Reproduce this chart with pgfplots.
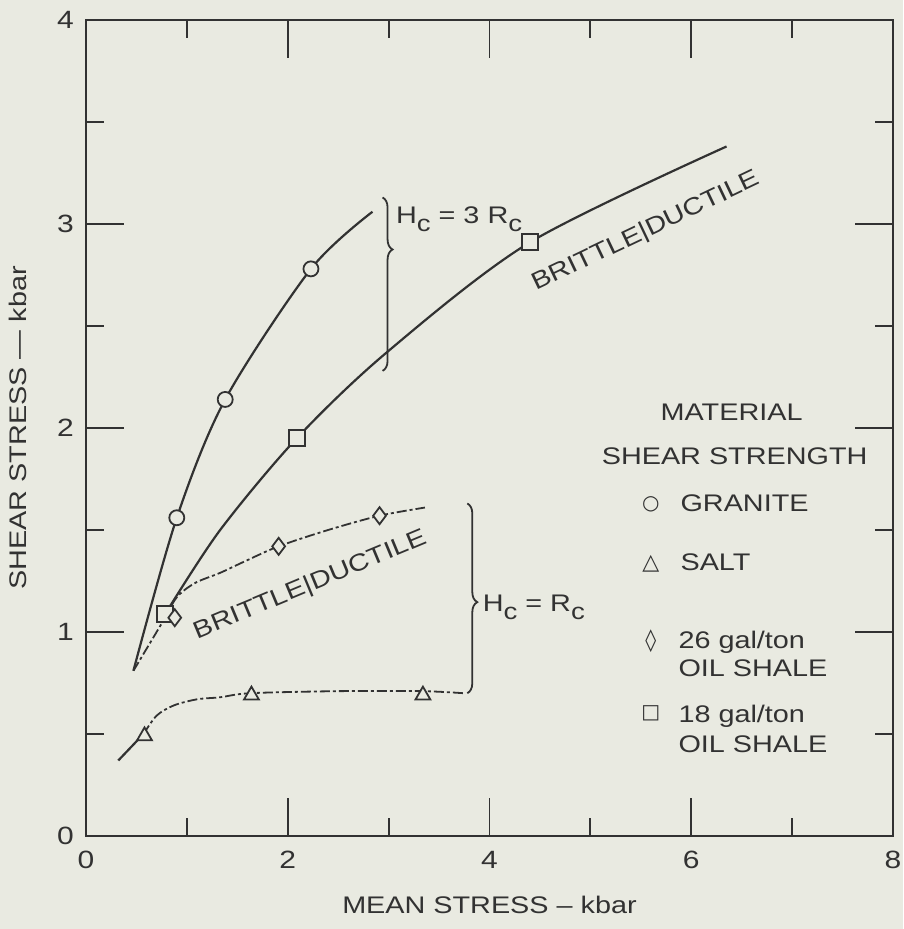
\documentclass[border=0pt]{standalone}
\usepackage{fontspec}
\setmainfont{Liberation Sans}[FakeStretch=1.2]
\newfontfamily\symfont{DejaVu Sans}
\usepackage{pgfplots}
\pgfplotsset{compat=1.18}
\usetikzlibrary{decorations.pathreplacing}
\definecolor{bg}{RGB}{233,234,225}
\definecolor{ink}{RGB}{50,50,50}
\newcommand{\lblfont}{\fontsize{12}{14}\selectfont}
\newcommand{\sub}[1]{\raisebox{-0.6ex}{\fontsize{11.5}{12}\selectfont #1}}
\begin{document}
\begin{tikzpicture}
\path[use as bounding box, fill=bg] (-43pt,-46.5pt) rectangle (408.5pt,418pt);
\begin{axis}[
  scale only axis, width=403.5pt, height=408pt,
  xmin=0, xmax=8, ymin=0, ymax=4,
  xtick={0,2,4,6,8}, minor xtick={1,3,5,7},
  ytick={0,1,2,3,4}, minor ytick={0.5,1.5,2.5,3.5},
  tick align=inside, major tick length=19pt, minor tick length=9pt,
  tick style={ink, line width=0.9pt},
  axis line style={ink, line width=1pt},
  /pgf/number format/assume math mode=true,
  ticklabel style={font=\fontsize{12.5}{14}\selectfont, text=ink},
  xticklabel style={yshift=-4pt},
  yticklabel style={xshift=-2.5pt},
  xlabel={MEAN STRESS -- kbar}, ylabel={SHEAR STRESS — kbar},
  every axis x label/.style={at={(rel axis cs:0.5,0)}, yshift=-34.5pt, anchor=center, font=\lblfont, text=ink},
  every axis y label/.style={at={(rel axis cs:0,0.5)}, xshift=-34pt, rotate=90, anchor=center, font=\lblfont, text=ink},
]
% Granite
\addplot[ink, line width=1.1pt, smooth, tension=0.5] coordinates {
  (0.47,0.81) (0.90,1.56) (1.38,2.14) (2.23,2.78) (2.84,3.06)};
\addplot[ink, only marks, mark=*, mark size=3.75pt, mark options={fill=bg, draw=ink, line width=0.9pt}] coordinates {
  (0.90,1.56) (1.38,2.14) (2.23,2.78)};
% 18 gal/ton oil shale
\addplot[ink, line width=1.1pt, smooth, tension=0.5] coordinates {
  (0.80,1.10) (1.33,1.50) (2.09,1.95) (2.98,2.37) (4.40,2.91) (6.35,3.38)};
\addplot[ink, only marks, mark=square*, mark size=4pt, mark options={fill=bg, draw=ink, line width=0.9pt}] coordinates {
  (0.78,1.09) (2.09,1.95) (4.40,2.91)};
% 26 gal/ton oil shale
\addplot[ink, line width=0.9pt, smooth, tension=0.5, dash pattern=on 5pt off 1.5pt on 1.5pt off 1.5pt] coordinates {
  (0.47,0.81) (0.76,1.05) (0.90,1.17) (1.08,1.24) (1.33,1.29) (1.59,1.35) (1.91,1.42) (2.40,1.50) (2.91,1.57) (3.36,1.61)};
\addplot[ink, only marks, mark=diamond*, mark size=4.25pt, mark options={fill=bg, draw=ink, line width=0.9pt}] coordinates {
  (0.88,1.07) (1.91,1.42) (2.91,1.57)};
% Salt
\addplot[ink, line width=1.1pt] coordinates {(0.32,0.37) (0.57,0.50)};
\addplot[ink, line width=0.9pt, smooth, tension=0.5, dash pattern=on 5pt off 1.5pt on 1.5pt off 1.5pt] coordinates {
  (0.57,0.50) (0.70,0.59) (0.87,0.64) (1.10,0.67) (1.33,0.68) (1.63,0.70) (2.50,0.71) (3.33,0.71) (3.74,0.70)};
\addplot[ink, only marks, mark=triangle*, mark size=4.3pt, mark options={fill=bg, draw=ink, line width=0.9pt}] coordinates {
  (0.58,0.49) (1.64,0.69) (3.34,0.69)};

% Labels on curves
\node[anchor=base, rotate=25.5, font=\lblfont, text=ink] at (axis cs:5.58,2.935) {BRITTLE|DUCTILE};
\node[anchor=base, rotate=22.6, font=\lblfont, text=ink] at (axis cs:2.25,1.20) {BRITTLE|DUCTILE};

% Braces
\draw[ink, line width=0.9pt, decorate, decoration={brace, amplitude=5pt, aspect=0.3}] (axis cs:2.94,3.13) -- (axis cs:2.94,2.28);
\draw[ink, line width=0.9pt, decorate, decoration={brace, amplitude=5pt, aspect=0.52}] (axis cs:3.78,1.63) -- (axis cs:3.78,0.70);
\node[anchor=base west, font=\lblfont, text=ink, inner sep=0pt] at (axis cs:3.07,3.0) {H\sub{c} = 3 R\sub{c}};
\node[anchor=base west, font=\lblfont, text=ink, inner sep=0pt] at (axis cs:3.93,1.10) {H\sub{c} = R\sub{c}};

% Legend block
\node[anchor=base, font=\lblfont, text=ink, inner sep=0pt] at (axis cs:6.40,2.037) {MATERIAL};
\node[anchor=base, font=\lblfont, text=ink, inner sep=0pt] at (axis cs:6.43,1.82) {SHEAR STRENGTH};
\node[font=\symfont\fontsize{10}{11}\selectfont, text=ink, inner sep=0pt] at (axis cs:5.60,1.625) {○};
\node[anchor=base west, font=\lblfont, text=ink, inner sep=0pt] at (axis cs:5.89,1.59) {GRANITE};
\node[font=\symfont\fontsize{11}{12}\selectfont, text=ink, inner sep=0pt] at (axis cs:5.60,1.335) {△};
\node[anchor=base west, font=\lblfont, text=ink, inner sep=0pt] at (axis cs:5.89,1.30) {SALT};
\node[font=\symfont\fontsize{11}{12}\selectfont, text=ink, inner sep=0pt] at (axis cs:5.60,0.956) {◊};
\node[anchor=base west, font=\lblfont, text=ink, inner sep=0pt] at (axis cs:5.87,0.917) {26 gal/ton};
\node[anchor=base west, font=\lblfont, text=ink, inner sep=0pt] at (axis cs:5.87,0.78) {OIL SHALE};
\node[font=\symfont\fontsize{10}{11}\selectfont, text=ink, inner sep=0pt] at (axis cs:5.60,0.60) {□};
\node[anchor=base west, font=\lblfont, text=ink, inner sep=0pt] at (axis cs:5.87,0.556) {18 gal/ton};
\node[anchor=base west, font=\lblfont, text=ink, inner sep=0pt] at (axis cs:5.87,0.41) {OIL SHALE};
\end{axis}
\end{tikzpicture}
\end{document}
